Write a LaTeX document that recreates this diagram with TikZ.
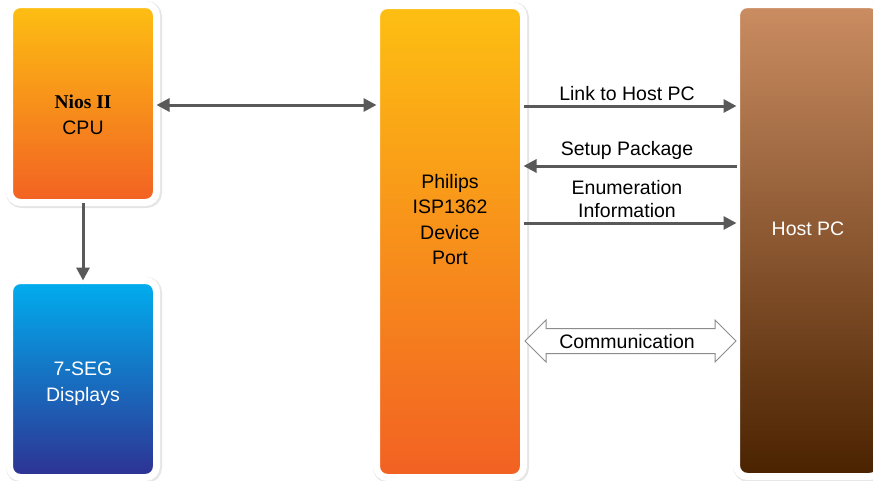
\documentclass[tikz,border=0pt]{standalone}
\usepackage{fontspec}
\setmainfont{Liberation Sans}
\newfontfamily\timesfont{Liberation Serif}
\usetikzlibrary{arrows.meta,shadows,calc}
\definecolor{niosA}{HTML}{FDBF12}
\definecolor{niosB}{HTML}{F26123}
\definecolor{segA}{HTML}{00AEEF}
\definecolor{segB}{HTML}{2E3192}
\definecolor{hostA}{HTML}{CB8D62}
\definecolor{hostB}{HTML}{4A2200}
\definecolor{arrgray}{HTML}{595959}
\definecolor{outgray}{HTML}{8C8C8C}
\begin{document}
\begin{tikzpicture}[x=1pt,y=-1pt,
  blockbox/.style={rectangle, rounded corners=11pt, draw=white, line width=7pt,
    inner sep=0pt, outer sep=0pt,
    drop shadow={shadow xshift=1pt, shadow yshift=-1pt, opacity=0.1, fill=black, draw=black, line width=9pt}},
  lbl/.style={font=\fontsize{19.5}{25.5}\selectfont, align=center, inner sep=0pt},
  conn/.style={draw=arrgray, line width=3pt, -{Triangle[length=13pt,width=13pt]}},
  ]
\useasboundingbox (0,0) rectangle (873,480);
\clip (0,0) rectangle (873,480);
\fill[white] (0,0) rectangle (873,480);

\node[blockbox, top color=niosA, bottom color=niosB, minimum width=147pt, minimum height=198pt] (nios) at (83,103.5) {};
\node[blockbox, top color=segA, bottom color=segB, minimum width=147pt, minimum height=197pt] (seg) at (83,379) {};
\node[blockbox, top color=niosA, bottom color=niosB, minimum width=147pt, minimum height=472pt] (isp) at (450,241.5) {};
\node[blockbox, top color=hostA, bottom color=hostB, minimum width=144pt, minimum height=472pt] (host) at (808.5,240.5) {};

\node[lbl] (niostxt) at (83,115) {{\timesfont\bfseries Nios II}\\CPU};
\node[lbl, text=white] (segtxt) at (83,383.5) {7-SEG\\Displays};
\node[lbl] (isptxt) at (450,219.5) {Philips\\ISP1362\\Device\\Port};
\node[lbl, text=white] (hosttxt) at (808,228.5) {Host PC};

\coordinate (ya) at (0,105);
\coordinate (y1) at (0,106);
\coordinate (y2) at (0,166);
\coordinate (y3) at (0,223);
\coordinate (yc) at (0,341);

\draw[conn, {Triangle[length=13pt,width=13pt]}-{Triangle[length=13pt,width=13pt]}] (nios.east |- ya) -- (isp.west |- ya);
\draw[conn] (nios.south) -- (seg.north);

\draw[conn] (isp.east |- y1) -- (host.west |- y1);
\node[lbl] (l1) at (627,94) {Link to Host PC};
\draw[conn] (host.west |- y2) -- (isp.east |- y2);
\node[lbl] (l2) at (627,150) {Setup Package};
\draw[conn] (isp.east |- y3) -- (host.west |- y3);
\node[lbl, font=\fontsize{19.5}{23}\selectfont] (l3) at (627,199.5) {Enumeration\\Information};

\coordinate (cl) at ($(isp.east |- yc)+(1.5,0)$);
\coordinate (cr) at ($(host.west |- yc)+(-0.5,0)$);
\draw[draw=outgray, fill=white, line width=1pt, line join=miter]
  (cl) -- ($(cl)+(21,-21)$) -- ($(cl)+(21,-12.5)$) -- ($(cr)+(-21,-12.5)$)
  -- ($(cr)+(-21,-21)$) -- (cr) -- ($(cr)+(-21,21)$) -- ($(cr)+(-21,12.5)$)
  -- ($(cl)+(21,12.5)$) -- ($(cl)+(21,21)$) -- cycle;
\node[lbl] (l4) at (627,342) {Communication};
\end{tikzpicture}
\end{document}
